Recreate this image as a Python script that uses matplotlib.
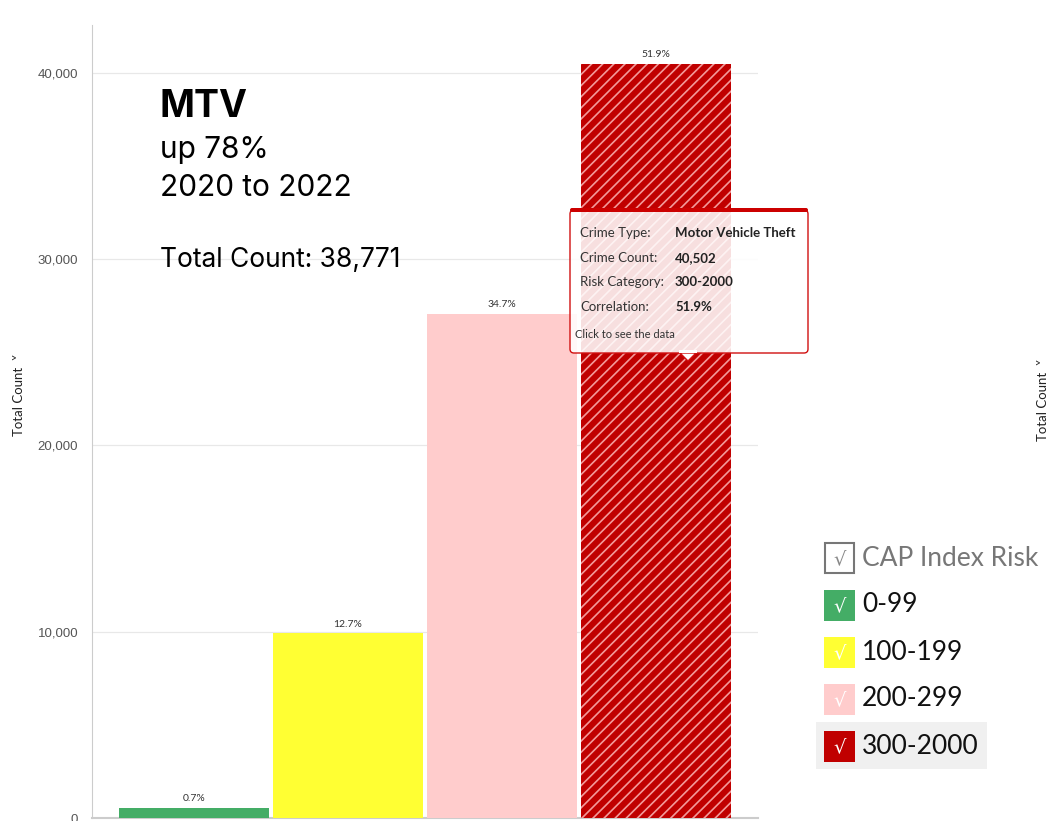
import matplotlib
matplotlib.use("Agg")
import matplotlib.pyplot as plt
from matplotlib.patches import Rectangle, FancyBboxPatch, Polygon

# ---- data ----
categories = ["0-99", "100-199", "200-299", "300-2000"]
counts = [546, 9911, 27080, 40502]
pct_labels = ["0.7%", "12.7%", "34.7%", "51.9%"]
colors = ["#44ad66", "#ffff33", "#ffcccc", "#c00000"]
yticks = [0, 10000, 20000, 30000, 40000]
ytick_labels = ["0", "10,000", "20,000", "30,000", "40,000"]
tooltip_keys = ["Crime Type:", "Crime Count:", "Risk Category:", "Correlation:"]
tooltip_vals = ["Motor Vehicle Theft", "40,502", "300-2000", "51.9%"]

W, H = 1050, 821
plt.rcParams["hatch.linewidth"] = 1.2
fig = plt.figure(figsize=(W / 100, H / 100), dpi=100)
fig.patch.set_facecolor("white")

def px_ax(l, t, r, b):
    return [l / W, 1 - b / H, (r - l) / W, (b - t) / H]

ax = fig.add_axes(px_ax(92, 25, 758, 818))
ax.set_facecolor("white")
x = list(range(len(categories)))
bars = ax.bar(x, counts, width=0.974, color=colors, linewidth=0, zorder=3)
bars[3].set_hatch("///")
bars[3].set_edgecolor("#f39a9a")
for xi, c, lab in zip(x, counts, pct_labels):
    ax.text(xi, c + 250, lab, ha="center", va="bottom", fontsize=7.5,
            color="#333333", family=["Lato", "DejaVu Sans"], zorder=4)

ax.set_xlim(-0.662, 3.662)
ax.set_ylim(0, 42577)
ax.set_yticks(yticks)
ax.set_yticklabels(ytick_labels, fontsize=9.5, color="#555555",
                   family=["Liberation Sans", "DejaVu Sans"])
ax.set_xticks([])
ax.tick_params(axis="y", length=0, pad=10)
ax.grid(axis="y", color="#e8e8e8", linewidth=0.9, zorder=0)
for s in ["top", "right"]:
    ax.spines[s].set_visible(False)
ax.spines["left"].set_color("#cccccc")
ax.spines["bottom"].set_color("#cccccc")
ax.spines["bottom"].set_linewidth(1.5)

# ---- overlay in pixel coordinates ----
ov = fig.add_axes([0, 0, 1, 1])
ov.set_xlim(0, W)
ov.set_ylim(H, 0)
ov.axis("off")
ov.patch.set_alpha(0)

# y-axis title
ov.text(19, 395, "Total Count  \u02c5", rotation=90, fontsize=9.5, color="#222222",
        family=["Lato", "DejaVu Sans"], ha="center", va="center")

ov.text(160, 117, "MTV", fontsize=27, fontweight="bold", family=["Inter", "DejaVu Sans"],
        color="black", va="baseline")
ov.text(160, 158, "up 78%", fontsize=21.5, family=["Inter", "DejaVu Sans"], color="black", va="baseline")
ov.text(160, 196, "2020 to 2022", fontsize=21.5, family=["Inter", "DejaVu Sans"], color="black", va="baseline")
ov.text(160, 267, "Total Count: 38,771", fontsize=19, family=["Inter", "DejaVu Sans"],
        color="black", va="baseline")

# tooltip
tip = FancyBboxPatch((570, 210), 238, 143, boxstyle="round,pad=0,rounding_size=4",
                     facecolor="white", alpha=0.88, edgecolor="none", zorder=5)
ov.add_patch(tip)
tip_b = FancyBboxPatch((570, 210), 238, 143, boxstyle="round,pad=0,rounding_size=4",
                       facecolor="none", edgecolor="#d01010", linewidth=1.0, zorder=6)
ov.add_patch(tip_b)
ov.add_patch(FancyBboxPatch((570, 208), 238, 4, boxstyle="round,pad=0,rounding_size=2",
                            facecolor="#cc0000", edgecolor="none", zorder=6))
ov.add_patch(Polygon([(680, 353), (696, 353), (688, 361)], closed=True,
                     facecolor="white", edgecolor="#d01010", linewidth=1.0, zorder=6))
ov.add_patch(Rectangle((679, 350), 18, 3.2, facecolor="white", edgecolor="none", zorder=7))
ys = [233, 258, 282, 307]
for yy, k, v in zip(ys, tooltip_keys, tooltip_vals):
    ov.text(580, yy, k, fontsize=9.5, family=["Lato", "DejaVu Sans"], color="#333333",
            va="center", zorder=8)
    ov.text(675, yy, v, fontsize=9.5, family=["Lato", "DejaVu Sans"], color="#222222",
            fontweight="bold", va="center", zorder=8)
ov.text(575, 335, "Click to see the data", fontsize=8, family=["Lato", "DejaVu Sans"],
        color="#333333", va="center", zorder=8)

# legend
ov.add_patch(Rectangle((816, 722), 171, 47, facecolor="#f0f0f0", edgecolor="none"))
leg_rows = [558, 605, 652, 699, 746]
leg_labels = ["CAP Index Risk"] + categories
for i, (yy, lab) in enumerate(zip(leg_rows, leg_labels)):
    if i == 0:
        ov.add_patch(Rectangle((825, yy - 15), 29, 30, facecolor="white",
                               edgecolor="#777777", linewidth=1.5))
        ov.text(839.5, yy + 1, "\u221a", ha="center", va="center", fontsize=14,
                color="#888888", family=["DejaVu Sans"])
        ov.text(862, yy, lab, fontsize=19, family=["Lato", "DejaVu Sans"],
                color="#777777", va="center")
    else:
        ov.add_patch(Rectangle((824, yy - 15), 31, 31, facecolor=colors[i - 1],
                               edgecolor="none"))
        ov.text(839.5, yy + 1, "\u221a", ha="center", va="center", fontsize=14,
                color="white", family=["DejaVu Sans"])
        ov.text(862, yy, lab, fontsize=19, family=["Lato", "DejaVu Sans"],
                color="#111111", va="center")

# partial second chart label at right edge
ov.text(1043, 400, "Total Count  \u02c5", rotation=90, fontsize=9.5, color="#222222",
        family=["Lato", "DejaVu Sans"], ha="center", va="center")

fig.savefig("out.png", dpi=100)
